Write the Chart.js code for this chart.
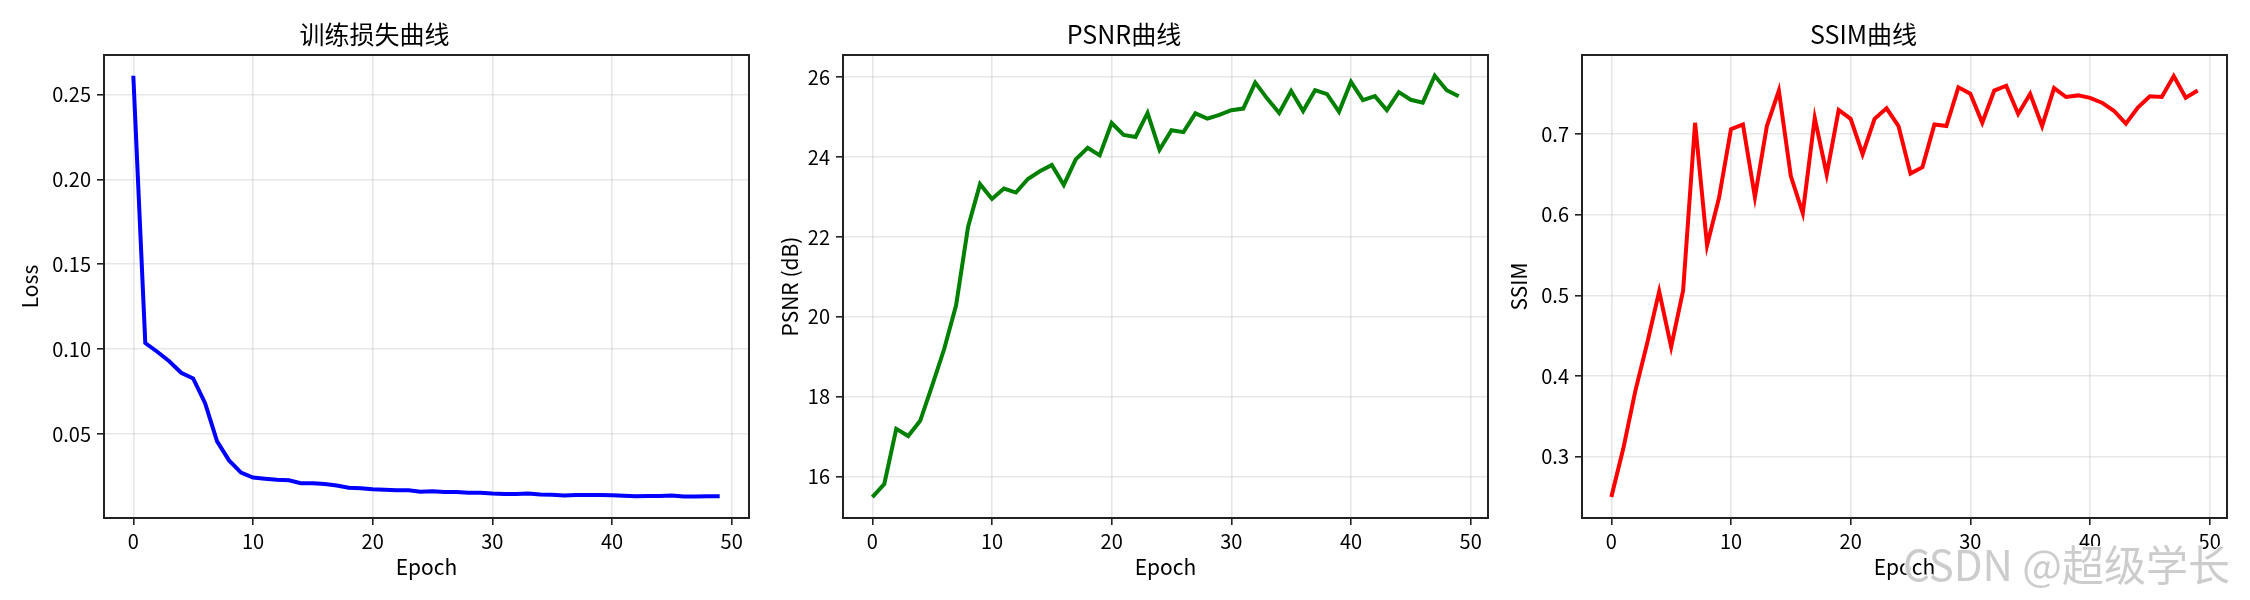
<!DOCTYPE html>
<html>
<head>
<meta charset="utf-8">
<script src="https://cdn.jsdelivr.net/npm/chart.js@4.4.1/dist/chart.umd.min.js"></script>
<style>
  body { margin: 0; background: #fff; width: 2250px; height: 600px; position: relative; overflow: hidden; }
  .panel { position: absolute; top: 0; height: 600px; }
  #wm { position: absolute; left: 1903px; top: 532px; font: 42px "Noto Sans CJK SC", sans-serif;
        color: rgba(195,195,195,0.85); text-shadow: 1px 1px 0 #fff, -1px -1px 0 #fff; white-space: nowrap; }
</style>
</head>
<body>
<div class="panel" style="left:0;width:760px"><canvas id="lossChart"></canvas></div>
<div class="panel" style="left:760px;width:740px"><canvas id="psnrChart"></canvas></div>
<div class="panel" style="left:1500px;width:750px"><canvas id="ssimChart"></canvas></div>
<div id="wm">CSDN @超级学长</div>
<script>
const epochs = [0, 1, 2, 3, 4, 5, 6, 7, 8, 9, 10, 11, 12, 13, 14, 15, 16, 17, 18, 19,
  20, 21, 22, 23, 24, 25, 26, 27, 28, 29, 30, 31, 32, 33, 34, 35, 36, 37, 38, 39,
  40, 41, 42, 43, 44, 45, 46, 47, 48, 49];

const lossValues = [0.261, 0.1036, 0.0985, 0.0929, 0.0861, 0.0828, 0.0682, 0.0457, 0.0345, 0.0273,
  0.0244, 0.0237, 0.0231, 0.0228, 0.0211, 0.0211, 0.0206, 0.0197, 0.0184, 0.0181,
  0.0175, 0.0172, 0.0170, 0.0170, 0.0160, 0.0163, 0.0159, 0.0159, 0.0155, 0.0154,
  0.0150, 0.0148, 0.0148, 0.0150, 0.0144, 0.0143, 0.0139, 0.0141, 0.0141, 0.0142,
  0.0140, 0.0137, 0.0134, 0.0136, 0.0136, 0.0139, 0.0132, 0.0132, 0.0134, 0.0134];

const psnrValues = [15.49, 15.82, 17.20, 17.02, 17.40, 18.28, 19.19, 20.29, 22.25, 23.32,
  22.95, 23.21, 23.11, 23.45, 23.64, 23.80, 23.30, 23.94, 24.23, 24.04,
  24.85, 24.55, 24.50, 25.10, 24.18, 24.67, 24.62, 25.09, 24.96, 25.05,
  25.17, 25.21, 25.86, 25.46, 25.10, 25.65, 25.15, 25.67, 25.57, 25.13,
  25.88, 25.42, 25.52, 25.17, 25.62, 25.43, 25.36, 26.03, 25.67, 25.52];

const ssimValues = [0.250, 0.310, 0.381, 0.441, 0.505, 0.436, 0.506, 0.714, 0.562, 0.621,
  0.706, 0.712, 0.622, 0.710, 0.754, 0.648, 0.602, 0.720, 0.650, 0.730,
  0.719, 0.675, 0.719, 0.732, 0.710, 0.651, 0.659, 0.712, 0.710, 0.758,
  0.750, 0.714, 0.754, 0.760, 0.725, 0.750, 0.710, 0.757, 0.746, 0.748,
  0.745, 0.739, 0.729, 0.713, 0.733, 0.747, 0.746, 0.772, 0.745, 0.754];

const epochTicks = [0, 10, 20, 30, 40, 50];
const lossTicks = [0.05, 0.10, 0.15, 0.20, 0.25];
const psnrTicks = [16, 18, 20, 22, 24, 26];
const ssimTicks = [0.3, 0.4, 0.5, 0.6, 0.7];

const FONT = '"Noto Sans CJK SC", "DejaVu Sans", sans-serif';
const GRID = "rgba(176,176,176,0.3)";
const SPINE = "#222";

// draws the top and right spines (left/bottom come from the axis borders)
const boxPlugin = {
  id: "box",
  afterDraw(chart) {
    const { ctx, chartArea: a } = chart;
    ctx.save();
    ctx.strokeStyle = SPINE;
    ctx.lineWidth = 2;
    ctx.strokeRect(a.left, a.top, a.right - a.left, a.bottom - a.top);
    ctx.restore();
  }
};

function makeChart(id, opts) {
  const ctx = document.getElementById(id).getContext("2d");
  return new Chart(ctx, {
    type: "line",
    data: {
      datasets: [{
        data: epochs.map((e, i) => ({ x: e, y: opts.values[i] })),
        borderColor: opts.color,
        borderWidth: 4,
        pointRadius: 0,
        tension: 0,
        fill: false
      }]
    },
    options: {
      responsive: true,
      maintainAspectRatio: false,
      animation: false,
      layout: { padding: { left: 0, right: opts.padRight, top: 0, bottom: 0 } },
      plugins: {
        legend: { display: false },
        tooltip: { enabled: false },
        title: {
          display: true,
          text: opts.title,
          color: "#000",
          font: { family: FONT, size: 25, weight: "normal" },
          padding: { top: 19, bottom: 6 }
        }
      },
      scales: {
        x: {
          type: "linear",
          min: -2.45,
          max: 51.45,
          afterBuildTicks: axis => { axis.ticks = epochTicks.map(v => ({ value: v })); },
          afterFit: axis => { axis.height = 82; },
          ticks: {
            color: "#000",
            font: { family: FONT, size: 20 },
            padding: 4,
            maxRotation: 0,
            callback: v => String(v)
          },
          grid: { color: GRID, lineWidth: 1.6, tickColor: SPINE, tickLength: 7, tickWidth: 1.6 },
          border: { display: true, color: SPINE, width: 2 },
          title: {
            display: true,
            text: "Epoch",
            color: "#000",
            font: { family: FONT, size: 21 },
            padding: { top: 0, bottom: 20 }
          }
        },
        y: {
          type: "linear",
          min: opts.yMin,
          max: opts.yMax,
          afterBuildTicks: axis => { axis.ticks = opts.ticks.map(v => ({ value: v })); },
          afterFit: axis => { axis.width = opts.yWidth; },
          ticks: {
            color: "#000",
            font: { family: FONT, size: 20 },
            padding: 6,
            callback: v => v.toFixed(opts.decimals)
          },
          grid: { color: GRID, lineWidth: 1.6, tickColor: SPINE, tickLength: 7, tickWidth: 1.6 },
          border: { display: true, color: SPINE, width: 2 },
          title: {
            display: true,
            text: opts.yLabel,
            color: "#000",
            font: { family: FONT, size: 21 },
            padding: { top: opts.yTitlePad, bottom: 0 }
          }
        }
      }
    },
    plugins: [boxPlugin]
  });
}

makeChart("lossChart", {
  title: "训练损失曲线", yLabel: "Loss", values: lossValues, color: "#0000ff",
  ticks: lossTicks, decimals: 2, yMin: 0.0006, yMax: 0.2732,
  yWidth: 104, padRight: 11, yTitlePad: 17
});

makeChart("psnrChart", {
  title: "PSNR曲线", yLabel: "PSNR (dB)", values: psnrValues, color: "#008000",
  ticks: psnrTicks, decimals: 0, yMin: 14.97, yMax: 26.55,
  yWidth: 83, padRight: 12, yTitlePad: 17
});

makeChart("ssimChart", {
  title: "SSIM曲线", yLabel: "SSIM", values: ssimValues, color: "#ff0000",
  ticks: ssimTicks, decimals: 1, yMin: 0.2239, yMax: 0.7981,
  yWidth: 82, padRight: 23, yTitlePad: 6
});
</script>
</body>
</html>
